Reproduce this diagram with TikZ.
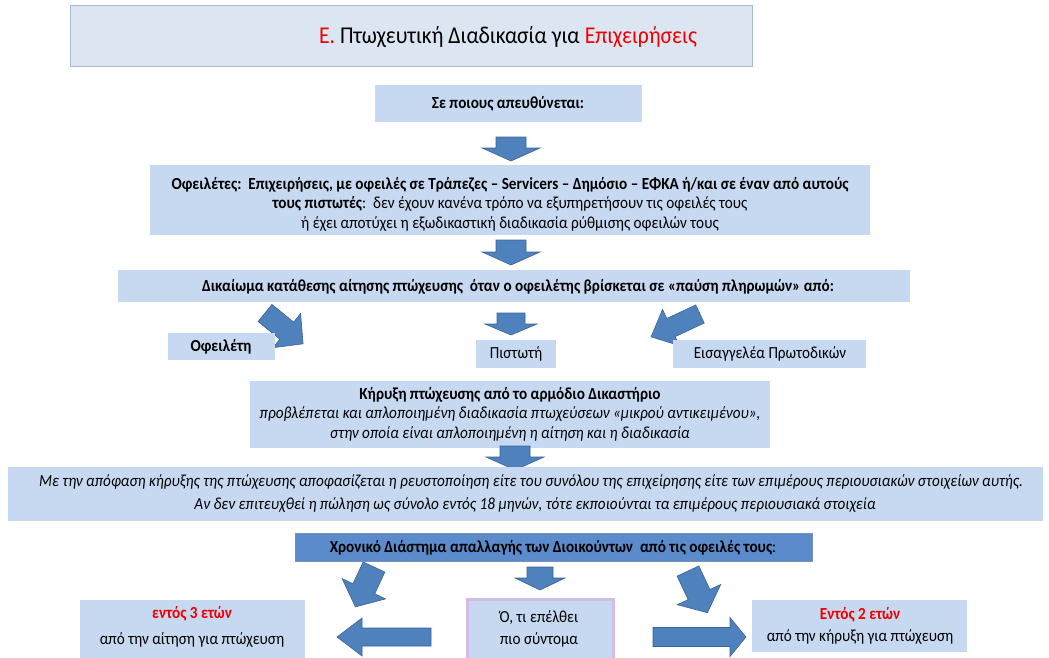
\documentclass[tikz,border=0pt]{standalone}
\usepackage{fontspec}
\setmainfont{Carlito}[FakeStretch=0.9]
\usetikzlibrary{calc}
\definecolor{boxfill}{HTML}{C6D9F1}
\definecolor{titlefill}{HTML}{DCE6F2}
\definecolor{titleline}{HTML}{A3BCDB}
\definecolor{arrfill}{HTML}{4F81BD}
\definecolor{arrline}{HTML}{3A6396}
\definecolor{darkfill}{HTML}{5B8BCB}
\definecolor{lav}{HTML}{D3BDE6}
\definecolor{redtxt}{HTML}{F00000}
\newcommand{\blkarrow}[8]{%
  \begin{scope}[shift={(#2,#3)},rotate=#4]
    \filldraw[arrowsty] (0,-#6) -- ({#5-#8},-#6) -- ({#5-#8},-#7) -- (#5,0) -- ({#5-#8},#7) -- ({#5-#8},#6) -- (0,#6) -- cycle;
    \coordinate (#1) at (#5/2,0);
  \end{scope}}
\tikzset{
  arrowsty/.style={fill=arrfill,draw=arrline,line width=0.6pt,line join=miter},
  boxsty/.style={fill=boxfill,draw=none,inner sep=0pt,anchor=north west},
  txt/.style={inner sep=0pt,align=center,font=\fontsize{16.9}{20}\selectfont},
}
\begin{document}
\begin{tikzpicture}[x=1pt,y=-1pt]
\useasboundingbox (0,0) rectangle (1049,657);
% title
\node[boxsty,fill=titlefill,draw=titleline,line width=1.2pt,minimum width=682pt,minimum height=61pt] (title) at (70,5) {};
\node[txt,font=\fontsize{24.1}{26}\selectfont] (titletxt) at (508,37) {\textcolor{redtxt}{Ε.} Πτωχευτική Διαδικασία για \textcolor{redtxt}{Επιχειρήσεις}};
% who
\node[boxsty,minimum width=267pt,minimum height=37pt] (who) at (375,85) {};
\node[txt] (whotxt) at (508,104) {\textbf{Σε ποιους απευθύνεται:}};
\blkarrow{a1}{511}{137}{-90}{24}{15}{29}{13}
% debtors
\node[boxsty,minimum width=720pt,minimum height=70pt] (debt) at (150,165) {};
\node[txt] (debt1) at (510,185) {\textbf{Οφειλέτες:\ \ Επιχειρήσεις, με οφειλές σε Τράπεζες – Servicers – Δημόσιο – ΕΦΚΑ ή/και σε έναν από αυτούς}};
\node[txt] (debt2) at (510,204) {\textbf{τους πιστωτές}:\ \ δεν έχουν κανένα τρόπο να εξυπηρετήσουν τις οφειλές τους};
\node[txt] (debt3) at (510,224) {ή έχει αποτύχει η εξωδικαστική διαδικασία ρύθμισης οφειλών τους};
\blkarrow{a2}{511}{240}{-90}{25}{15}{29}{13}
% right
\node[boxsty,minimum width=792pt,minimum height=32pt] (right) at (118,270) {};
\node[txt] (righttxt) at (518,287) {\textbf{Δικαίωμα κατάθεσης αίτησης πτώχευσης\ \ όταν ο οφειλέτης βρίσκεται σε «παύση πληρωμών» από:}};
\blkarrow{a3}{265}{313}{-39}{49}{11}{22}{21}
\blkarrow{a4}{511}{313}{-90}{22}{14}{26}{11}
\blkarrow{a5}{700}{314}{-155}{54}{10}{20}{22}
\node[boxsty,minimum width=107pt,minimum height=27pt] (ofb) at (168,333) {};
\node[txt] (oftxt) at (221,347) {\textbf{Οφειλέτη}};
\node[boxsty,minimum width=80pt,minimum height=28pt] (pib) at (476,340) {};
\node[txt] (pitxt) at (516,354) {Πιστωτή};
\node[boxsty,minimum width=193pt,minimum height=28pt] (eib) at (673,340) {};
\node[txt] (eitxt) at (770,354) {Εισαγγελέα Πρωτοδικών};
% court
\node[boxsty,minimum width=520pt,minimum height=67pt] (court) at (250,381) {};
\node[txt] (court1) at (510,395) {\textbf{Κήρυξη πτώχευσης από το αρμόδιο Δικαστήριο}};
\node[txt] (court2) at (510,414) {\textit{προβλέπεται και απλοποιημένη διαδικασία πτωχεύσεων «μικρού αντικειμένου»,}};
\node[txt] (court3) at (510,434) {\textit{στην οποία είναι απλοποιημένη η αίτηση και η διαδικασία}};
\blkarrow{a6}{515}{446}{-90}{24}{15}{29}{13}
% liquidation
\node[boxsty,minimum width=1035pt,minimum height=54pt] (liq) at (8,467) {};
\node[txt] (liq1) at (531,482) {\textit{Με την απόφαση κήρυξης της πτώχευσης αποφασίζεται η ρευστοποίηση είτε του συνόλου της επιχείρησης είτε των επιμέρους περιουσιακών στοιχείων αυτής.}};
\node[txt] (liq2) at (535,505) {\textit{Αν δεν επιτευχθεί η πώληση ως σύνολο εντός 18 μηνών, τότε εκποιούνται τα επιμέρους περιουσιακά στοιχεία}};
% discharge
\node[boxsty,fill=darkfill,draw=arrline!70,line width=0.6pt,minimum width=517pt,minimum height=28pt] (dis) at (295,533) {};
\node[txt] (distxt) at (553,548) {\textbf{Χρονικό Διάστημα απαλλαγής των Διοικούντων\ \ από τις οφειλές τους}:};
\blkarrow{a7}{374}{567}{-115}{44}{12}{24}{20}
\blkarrow{a8}{540}{567}{-90}{23}{13}{25}{12}
\blkarrow{a9}{688}{571}{-65}{46}{12}{24}{20}
% bottom boxes
\node[boxsty,minimum width=225pt,minimum height=60pt] (lb) at (80,600) {};
\node[txt] (lb1) at (192,614) {\textcolor{redtxt}{\textbf{εντός 3 ετών}}};
\node[txt] (lb2) at (192,640) {από την αίτηση για πτώχευση};
\node[boxsty,draw=lav,line width=3pt,minimum width=146pt,minimum height=62pt] (cb) at (466,598) {};
\node[txt] (cb1) at (539,618) {Ό, τι επέλθει};
\node[txt] (cb2) at (539,640) {πιο σύντομα};
\node[boxsty,minimum width=215pt,minimum height=52pt] (rb) at (752,600) {};
\node[txt] (rb1) at (860,615) {\textcolor{redtxt}{\textbf{Εντός 2 ετών}}};
\node[txt] (rb2) at (860,637) {από την κήρυξη για πτώχευση};
\blkarrow{a10}{431}{637}{180}{94}{9}{19}{25}
\blkarrow{a11}{653}{637}{0}{93}{9.5}{19.5}{16}
\end{tikzpicture}
\end{document}
